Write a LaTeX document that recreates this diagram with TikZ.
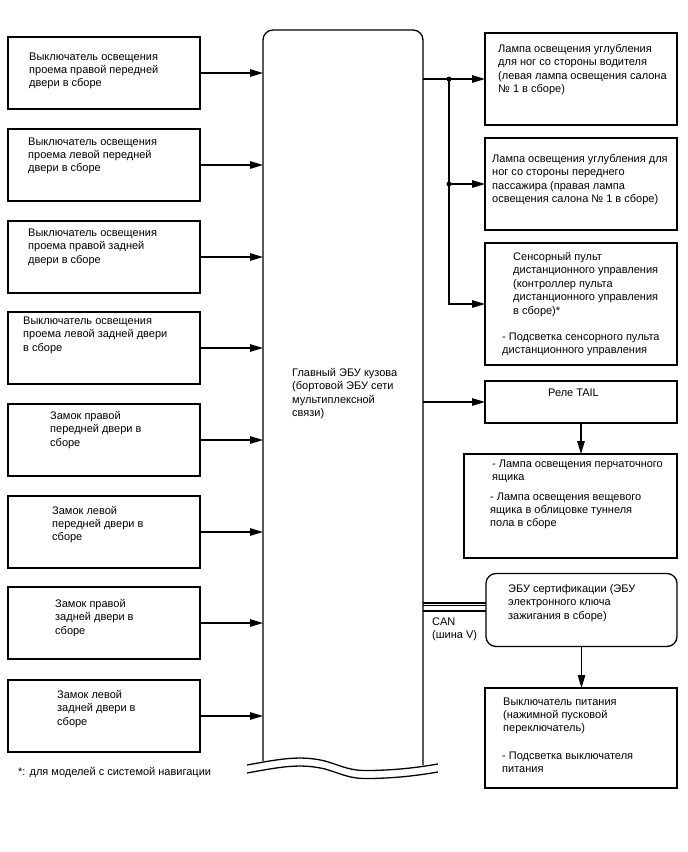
\documentclass[tikz,border=0pt]{standalone}
\usepackage{fontspec}
\setmainfont{Liberation Sans}
\usetikzlibrary{arrows.meta}
\begin{document}
\begin{tikzpicture}[x=1pt,y=-1pt,
  box/.style={draw, line width=1.3pt, minimum width=192pt, inner sep=0pt, outer sep=0pt},
  txt/.style={anchor=base west, align=left, inner sep=0pt, font=\fontsize{11}{13.4}\selectfont},
  arr/.style={line width=1.3pt, -{Triangle[length=13pt,width=7.5pt]}},
  wire/.style={line width=1.3pt},
  dot/.style={circle, fill, inner sep=0pt, minimum size=5pt}]
\useasboundingbox (0,0) rectangle (688,852);
% main ECU
\node[inner sep=0pt, outer sep=0pt, minimum width=160pt, minimum height=735pt] (ecu) at (343,397.5) {};
\draw[wire, rounded corners=10pt] (263,761) -- (263,30) -- (423,30) -- (423,765);
\draw[wire] (247,765) .. controls (280,759) and (300,755) .. (325,761)
  .. controls (345,767) and (350,771) .. (370,770.5)
  .. controls (400,770) and (420,767) .. (438,764);
\draw[wire] (247,773) .. controls (280,767) and (300,763) .. (325,769)
  .. controls (345,775) and (350,779) .. (370,778.5)
  .. controls (400,778) and (420,775) .. (438,772);
% text nodes are placed at the baseline of their last line
\node[txt] (ecut) at (292,416.7) {Главный ЭБУ кузова\\(бортовой ЭБУ сети\\мультиплексной\\связи)};
% left boxes
\node[box, minimum height=72pt] (L1) at (104,73) {};
\node[box, minimum height=72pt] (L2) at (104,165) {};
\node[box, minimum height=72pt] (L3) at (104,257) {};
\node[box, minimum height=72pt] (L4) at (104,348) {};
\node[box, minimum height=72pt] (L5) at (104,440) {};
\node[box, minimum height=72pt] (L6) at (104,532) {};
\node[box, minimum height=72pt] (L7) at (104,623) {};
\node[box, minimum height=72pt] (L8) at (104,716) {};
\node[txt] (L1t) at (29,86.8) {Выключатель освещения\\проема правой передней\\двери в сборе};
\node[txt] (L2t) at (28,171.8) {Выключатель освещения\\проема левой передней\\двери в сборе};
\node[txt] (L3t) at (28,263.3) {Выключатель освещения\\проема правой задней\\двери в сборе};
\node[txt] (L4t) at (23,351.3) {Выключатель освещения\\проема левой задней двери\\в сборе};
\node[txt] (L5t) at (50,446.3) {Замок правой\\передней двери в\\сборе};
\node[txt] (L6t) at (52,540.8) {Замок левой\\передней двери в\\сборе};
\node[txt] (L7t) at (55,634.3) {Замок правой\\задней двери в\\сборе};
\node[txt] (L8t) at (57,725.3) {Замок левой\\задней двери в\\сборе};
\foreach \i in {1,...,8} {\draw[arr] (L\i.east) -- (L\i.east -| ecu.west);}
% right boxes
\node[box, minimum height=92pt] (R1) at (581,79) {};
\node[box, minimum height=92pt] (R2) at (581,184) {};
\node[box, minimum height=122pt] (R3) at (581,304) {};
\node[box, minimum height=42pt] (tail) at (581,402) {};
\node[box, minimum width=213pt, minimum height=104pt] (lamp) at (570.5,506) {};
\node[box, minimum width=191pt, minimum height=73pt, rounded corners=10pt] (cert) at (581.5,610) {};
\node[box, minimum height=100pt] (pwr) at (581,738) {};
\node[txt] (R1t) at (498,92.7) {Лампа освещения углубления\\для ног со стороны водителя\\(левая лампа освещения салона\\№ 1 в сборе)};
\node[txt] (R2t) at (492,202.7) {Лампа освещения углубления для\\ног со стороны переднего\\пассажира (правая лампа\\освещения салона № 1 в сборе)};
\node[txt] (R3t) at (513,314.1) {Сенсорный пульт\\дистанционного управления\\(контроллер пульта\\дистанционного управления\\в сборе)*};
\node[txt] (R3u) at (502,353.4) {- Подсветка сенсорного пульта\\дистанционного управления};
\node[txt] (tailt) at (548,396.5) {Реле TAIL};
\node[txt] (lampt) at (492,480.9) {- Лампа освещения перчаточного\\ящика};
\node[txt] (lampu) at (490,526.8) {- Лампа освещения вещевого\\ящика в облицовке туннеля\\пола в сборе};
\node[txt] (certt) at (508,619.3) {ЭБУ сертификации (ЭБУ\\электронного ключа\\зажигания в сборе)};
\node[txt] (pwrt) at (503,731.8) {Выключатель питания\\(нажимной пусковой\\переключатель)};
\node[txt] (pwru) at (502,772.4) {- Подсветка выключателя\\питания};
\node[txt] (cant) at (432,638.4) {CAN\\(шина V)};
\node[txt] (note) at (18,775.5) {*: для моделей с системой навигации};
% right connectors
\coordinate (j1) at (449,79);
\coordinate (j2) at (449,184);
\draw[arr] (ecu.east |- R1.west) -- (R1.west);
\draw[arr] (j1) -- (j1 |- R3.west) -- (R3.west);
\draw[arr] (j2) -- (R2.west);
\node[dot] (d1) at (j1) {};
\node[dot] (d2) at (j2) {};
\draw[arr] (ecu.east |- tail.west) -- (tail.west);
\draw[arr] (tail.south) -- (tail.south |- lamp.north);
\draw[arr] (cert.south) -- (cert.south |- pwr.north);
% CAN bus
\draw[line width=2pt] ([yshift=7.5pt]ecu.east |- cert.west) -- ([yshift=7.5pt]cert.west);
\draw[line width=1.4pt] ([yshift=4.3pt]ecu.east |- cert.west) -- ([yshift=4.3pt]cert.west);
\draw[line width=2pt] ([yshift=-0.5pt]ecu.east |- cert.west) -- ([yshift=-0.5pt]cert.west);
\end{tikzpicture}
\end{document}
